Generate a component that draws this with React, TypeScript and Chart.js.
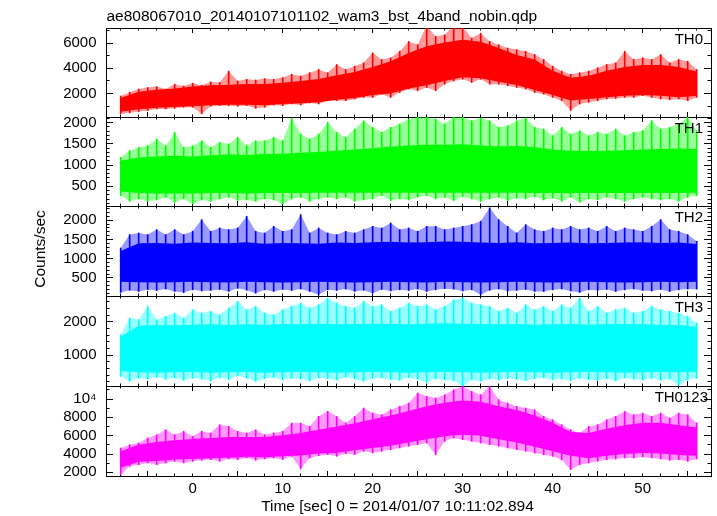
import React, { useEffect, useRef } from "react";
import { Chart, registerables } from "chart.js";

Chart.register(...registerables);

const WIDTH = 717;
const HEIGHT = 516;
const FONT = "'Liberation Sans', Arial, Helvetica, sans-serif";

const TITLE = "ae808067010_20140107101102_wam3_bst_4band_nobin.qdp";
const X_TITLE = "Time [sec] 0 = 2014/01/07 10:11:02.894";
const Y_TITLE = "Counts/sec";

// sample times (sec), one per second, and coarser times for the dense core band
const TIMES = [
  -8, -7, -6, -5, -4, -3, -2, -1, 0, 1, 2, 3, 4, 5, 6, 7, 8, 9, 10, 11, 12, 13, 14, 15, 16, 17, 18, 19, 20,
  21, 22, 23, 24, 25, 26, 27, 28, 29, 30, 31, 32, 33, 34, 35, 36, 37, 38, 39, 40, 41, 42, 43, 44, 45, 46,
  47, 48, 49, 50, 51, 52, 53, 54, 55, 56,
];
const TIMES_CORE = [
  -8, -6, -4, -2, 0, 2, 4, 6, 8, 10, 12, 14, 16, 18, 20, 22, 24, 26, 28, 30, 32, 34, 36, 38, 40, 42, 44,
  46, 48, 50, 52, 54, 56,
];

// TH0 : per-second spike extremes, and the dense core every 2 s
const TH0_HI = [
  1800, 2100, 2350, 2480, 2550, 2350, 2740, 2600, 2820, 2660,
  2920, 2870, 3780, 3000, 3130, 3080, 3180, 3130, 3260, 3520,
  3390, 3650, 3910, 3650, 4300, 3910, 4170, 4430, 5220, 4700,
  4830, 5350, 6130, 5870, 7400, 6520, 6650, 7400, 7300, 6390,
  6780, 6130, 5870, 5610, 5480, 5350, 5090, 4700, 4170, 3780,
  3520, 3650, 3780, 4040, 4300, 4430, 5350, 4700, 4830, 4700,
  5090, 4430, 4700, 4560, 3910,
];
const TH0_LO = [
  390, 470, 570, 650, 780, 780, 830, 910, 910, 390,
  990, 1040, 1040, 990, 1040, 830, 910, 1090, 1040, 1170,
  1090, 1250, 1170, 1430, 1430, 1430, 1560, 1690, 1690, 1950,
  1690, 2080, 2350, 2220, 2480, 2220, 2740, 3000, 3130, 2870,
  3130, 2740, 2740, 2610, 2480, 2350, 2080, 1950, 1690, 1430,
  650, 1170, 1300, 1430, 1560, 1610, 1690, 1690, 1820, 1690,
  1560, 1510, 1560, 1430, 1690,
];
const TH0_CORE_HI = [
  1650, 2150, 2300, 2400, 2550, 2650, 2700, 2750, 2750, 2850, 3000, 3150, 3450, 3700, 4100, 4550, 5200,
  5750, 6050, 6250, 6100, 5600, 5050, 4700, 3800, 3250, 3400, 3800, 4100, 4250, 4250, 4100, 3750,
];
const TH0_CORE_LO = [
  550, 750, 880, 930, 1000, 1080, 1120, 1120, 1080, 1160, 1230, 1310, 1500, 1640, 1880, 2000, 2400,
  2650, 3000, 3280, 3200, 2930, 2680, 2280, 1880, 1450, 1560, 1700, 1820, 1880, 1820, 1700, 1800,
];

// TH1
const TH1_HI = [
  1184, 1341, 1419, 1458, 1615, 1458, 1772, 1419, 1458, 1576,
  1419, 1537, 1498, 1655, 1458, 1576, 1576, 1655, 1576, 2110,
  1733, 1615, 1733, 2008, 1772, 1655, 1851, 2047, 1890, 1772,
  1890, 1969, 2086, 2126, 2126, 2086, 1969, 2126, 2126, 2047,
  2110, 2047, 1890, 1929, 2047, 2110, 1890, 1851, 1694, 1890,
  1733, 1812, 1694, 1772, 1733, 1851, 1694, 1772, 1812, 2047,
  1851, 1890, 1969, 2126, 1812,
];
const TH1_LO = [
  281, 147, 202, 147, 179, 242, 124, 202, 85, 179,
  147, 202, 242, 163, 179, 147, 202, 179, 85, 202,
  242, 147, 202, 242, 202, 242, 147, 179, 202, 281,
  163, 202, 179, 242, 281, 202, 242, 163, 257, 202,
  147, 202, 242, 163, 226, 202, 257, 179, 226, 147,
  242, 124, 202, 179, 242, 202, 147, 202, 242, 202,
  179, 202, 147, 242, 281,
];
const TH1_CORE_HI = [
  1100, 1180, 1200, 1220, 1200, 1230, 1250, 1240, 1260, 1270, 1290, 1310, 1340, 1370, 1400, 1430, 1460,
  1480, 1480, 1490, 1460, 1440, 1450, 1420, 1370, 1340, 1330, 1340, 1350, 1370, 1380, 1390, 1380,
];
const TH1_CORE_LO = [
  380, 340, 330, 330, 330, 340, 340, 330, 340, 340, 340, 350, 350, 350, 350, 350, 350,
  350, 350, 350, 350, 350, 350, 340, 340, 340, 340, 340, 340, 340, 340, 340, 350,
];

// TH2
const TH2_HI = [
  1278, 1626, 1669, 1626, 1756, 1626, 1756, 1626, 1713, 2017,
  1713, 1800, 1756, 1800, 2104, 1713, 1669, 1843, 1713, 1756,
  2148, 1669, 1800, 1669, 1626, 1713, 1669, 1756, 1843, 1800,
  1930, 1756, 1800, 1713, 1843, 1843, 1756, 1800, 1843, 1887,
  1974, 2322, 2017, 1843, 1669, 1887, 1756, 1713, 1800, 1756,
  1843, 1756, 1800, 1713, 1843, 1713, 1800, 1756, 1713, 1843,
  2017, 1756, 1713, 1626, 1452,
];
const TH2_LO = [
  121, 180, 150, 200, 170, 210, 150, 121, 190, 160,
  173, 200, 150, 230, 180, 103, 190, 150, 200, 173,
  210, 150, 60, 190, 173, 210, 150, 180, 103, 200,
  160, 190, 173, 210, 147, 190, 220, 208, 160, 190,
  60, 180, 210, 160, 173, 200, 150, 147, 190, 210,
  160, 121, 190, 173, 200, 147, 190, 210, 173, 160,
  200, 147, 190, 210, 208,
];
const TH2_CORE_HI = [
  1200, 1400, 1410, 1390, 1420, 1410, 1400, 1430, 1390, 1410, 1400, 1390, 1420, 1410, 1430, 1440, 1420,
  1430, 1450, 1440, 1420, 1410, 1430, 1400, 1410, 1420, 1400, 1410, 1420, 1430, 1410, 1420, 1380,
];
const TH2_CORE_LO = [
  400, 390, 380, 390, 400, 390, 380, 400, 390, 380, 390, 400, 390, 380, 390, 400, 390,
  380, 400, 390, 380, 390, 400, 390, 380, 390, 400, 390, 380, 390, 400, 390, 400,
];

// TH3
const TH3_HI = [
  1610, 2110, 2060, 2460, 2060, 2160, 2260, 2110, 2360, 2260,
  2310, 2210, 2410, 2610, 2360, 2460, 2260, 2210, 2360, 2460,
  2560, 2410, 2510, 2700, 2560, 2460, 2410, 2610, 2460, 2510,
  2310, 2410, 2560, 2460, 2510, 2360, 2460, 2660, 2710, 2560,
  2510, 2460, 2310, 2410, 2260, 2510, 2360, 2460, 2310, 2510,
  2410, 2710, 2310, 2460, 2260, 2360, 2410, 2260, 2310, 2460,
  2360, 2310, 2260, 2160, 1960,
];
const TH3_LO = [
  360, 210, 300, 280, 330, 270, 310, 240, 300, 280,
  220, 320, 260, 380, 300, 210, 290, 320, 260, 300,
  280, 220, 310, 290, 250, 330, 280, 210, 300, 310,
  260, 240, 320, 270, 180, 290, 250, 230, 60, 260,
  210, 280, 250, 300, 270, 230, 290, 310, 260, 280,
  230, 300, 260, 240, 290, 220, 310, 270, 250, 300,
  240, 280, 90, 260, 300,
];
const TH3_CORE_HI = [
  1550, 1880, 1900, 1890, 1910, 1920, 1900, 1920, 1910, 1930, 1920, 1940, 1920, 1930, 1940, 1930, 1920,
  1940, 1950, 1940, 1930, 1920, 1930, 1910, 1920, 1930, 1910, 1920, 1930, 1920, 1910, 1900, 1850,
];
const TH3_CORE_LO = [
  520, 480, 470, 480, 490, 470, 480, 490, 470, 480, 490, 480, 470, 480, 490, 480, 470,
  480, 490, 480, 470, 480, 490, 480, 470, 480, 490, 480, 470, 480, 490, 480, 500,
];

// TH0123
const TH0123_HI = [
  4655, 5018, 5200, 5746, 6109, 6655, 6109, 6473, 5927, 6473,
  6291, 7200, 7018, 6473, 6291, 6655, 6109, 6291, 6473, 7382,
  7382, 7018, 8109, 8655, 8109, 7382, 8109, 9018, 8473, 8291,
  8836, 9200, 9564, 10654, 10291, 10109, 10473, 11018, 11382, 10836,
  10473, 11382, 9927, 9564, 9200, 9018, 8836, 8109, 7745, 7200,
  6655, 6291, 7018, 7200, 7745, 8109, 8655, 8291, 8473, 8109,
  8473, 7927, 8473, 8291, 7382,
];
const TH0123_LO = [
  1746, 2655, 2837, 3019, 2837, 3019, 3200, 3019, 3200, 3310,
  3382, 3200, 3455, 3382, 3564, 3310, 3455, 3564, 3382, 3746,
  2364, 3564, 3819, 3928, 3746, 4037, 3928, 4291, 4110, 4291,
  4473, 4655, 4837, 5019, 5200, 3928, 5382, 5746, 5564, 5382,
  5200, 5019, 4837, 4655, 4473, 4291, 4110, 3928, 3746, 3382,
  2291, 2837, 3019, 3200, 3382, 3455, 3564, 3564, 3673, 3564,
  3455, 3310, 3382, 3200, 3455,
];
const TH0123_CORE_HI = [
  4300, 5000, 5300, 5500, 5650, 5750, 5850, 5850, 5850, 6050, 6300, 6650, 7000, 7350, 7800, 8200, 8700,
  9200, 9600, 9850, 9700, 9200, 8800, 8200, 7400, 6400, 6300, 6750, 7150, 7400, 7400, 7150, 6900,
];
const TH0123_CORE_LO = [
  2500, 3150, 3250, 3400, 3450, 3550, 3600, 3700, 3650, 3750, 3850, 4050, 4150, 4400, 4650, 4900, 5250,
  5600, 5950, 6100, 6000, 5600, 5250, 4800, 4300, 3800, 3550, 3800, 4000, 4100, 4050, 3900, 3800,
];

// tick labels
const X_MAJOR_TICKS = [0, 10, 20, 30, 40, 50];
const TH0_TICKS = [2000, 4000, 6000];
const TH1_TICKS = [500, 1000, 1500, 2000];
const TH2_TICKS = [500, 1000, 1500, 2000];
const TH3_TICKS = [1000, 2000];
const TH0123_TICKS = [2000, 4000, 6000, 8000, 10000];

// layout
const X_MIN = -9.63;
const X_MAX = 57.59;
const X_MINOR_STEP = 2;
const PLOT_LEFT = 106;
const PLOT_RIGHT = 711;
const PANEL_EDGES = [28, 117, 206, 296, 386, 476];
const X_LABEL_BAND = 30;

type Spec = {
  name: string;
  color: string;
  fuzz: string;
  hi: number[];
  lo: number[];
  coreHi: number[];
  coreLo: number[];
  yMin: number;
  yMax: number;
  yMajor: number[];
  yMinorStep: number;
  labelRight: number;
};

const PANELS: Spec[] = [
  { name: "TH0", color: "#ff0000", fuzz: "rgba(255,0,0,0.4)", hi: TH0_HI, lo: TH0_LO, coreHi: TH0_CORE_HI, coreLo: TH0_CORE_LO, yMin: 140, yMax: 7190, yMajor: TH0_TICKS, yMinorStep: 1000, labelRight: 703 },
  { name: "TH1", color: "#00ff00", fuzz: "rgba(0,255,0,0.4)", hi: TH1_HI, lo: TH1_LO, coreHi: TH1_CORE_HI, coreLo: TH1_CORE_LO, yMin: 36, yMax: 2134, yMajor: TH1_TICKS, yMinorStep: 100, labelRight: 703 },
  { name: "TH2", color: "#0000ff", fuzz: "rgba(0,0,255,0.4)", hi: TH2_HI, lo: TH2_LO, coreHi: TH2_CORE_HI, coreLo: TH2_CORE_LO, yMin: 30, yMax: 2370, yMajor: TH2_TICKS, yMinorStep: 100, labelRight: 703 },
  { name: "TH3", color: "#00ffff", fuzz: "rgba(0,255,255,0.4)", hi: TH3_HI, lo: TH3_LO, coreHi: TH3_CORE_HI, coreLo: TH3_CORE_LO, yMin: 70, yMax: 2770, yMajor: TH3_TICKS, yMinorStep: 200, labelRight: 703 },
  { name: "TH0123", color: "#ff00ff", fuzz: "rgba(255,0,255,0.4)", hi: TH0123_HI, lo: TH0123_LO, coreHi: TH0123_CORE_HI, coreLo: TH0123_CORE_LO, yMin: 1600, yMax: 11420, yMajor: TH0123_TICKS, yMinorStep: 1000, labelRight: 708 },
];

function stepTicks(min: number, max: number, step: number) {
  const out: { value: number }[] = [];
  for (let v = Math.ceil(min / step) * step; v <= max; v += step) out.push({ value: v });
  return out;
}

function PanelChart({ spec, index }: { spec: Spec; index: number }) {
  const ref = useRef<HTMLCanvasElement | null>(null);
  useEffect(() => {
    if (!ref.current) return;
    const isLast = index === PANELS.length - 1;
    const top = PANEL_EDGES[index];
    const bottom = PANEL_EDGES[index + 1];
    const spikes = TIMES.map((t, i) => ({ x: t, y: [spec.lo[i], spec.hi[i]] }));
    const envLo = TIMES.map((t, i) => ({ x: t, y: spec.lo[i] }));
    const envHi = TIMES.map((t, i) => ({ x: t, y: spec.hi[i] }));
    const coreLo = TIMES_CORE.map((t, i) => ({ x: t, y: spec.coreLo[i] }));
    const coreHi = TIMES_CORE.map((t, i) => ({ x: t, y: spec.coreHi[i] }));
    const tickFont = { family: FONT, size: 15 };
    const label = (v: any) => (Number(v) === 10000 ? "10\u2074" : String(v));

    const xAxis = (position: string, len: number, major: boolean, border: boolean, labels: boolean) => ({
      type: "linear",
      position,
      min: X_MIN,
      max: X_MAX,
      bounds: "data",
      offset: false,
      weight: labels ? 10 : 0,
      afterBuildTicks: (s: any) => {
        s.ticks = major ? X_MAJOR_TICKS.map((v) => ({ value: v })) : stepTicks(X_MIN, X_MAX, X_MINOR_STEP);
      },
      afterFit: (s: any) => { s.height = labels ? X_LABEL_BAND : 0; },
      grid: { display: true, drawOnChartArea: false, drawTicks: true, tickLength: -len, color: "#000", lineWidth: 1 },
      border: { display: border, color: "#000", width: 1 },
      ticks: { display: labels, autoSkip: false, maxRotation: 0, minRotation: 0, padding: 8.5, color: "#000", font: tickFont, callback: label },
    });
    const yAxis = (position: string, len: number, major: boolean, border: boolean, labels: boolean) => ({
      type: "linear",
      position,
      min: spec.yMin,
      max: spec.yMax,
      bounds: "data",
      weight: labels ? 10 : 0,
      afterBuildTicks: (s: any) => {
        s.ticks = major ? spec.yMajor.map((v) => ({ value: v })) : stepTicks(spec.yMin, spec.yMax, spec.yMinorStep);
      },
      afterFit: (s: any) => { s.width = labels ? PLOT_LEFT : 0; },
      grid: { display: true, drawOnChartArea: false, drawTicks: true, tickLength: -len, color: "#000", lineWidth: 1 },
      border: { display: border, color: "#000", width: 1 },
      ticks: { display: labels, autoSkip: false, padding: 16.5, color: "#000", font: tickFont, callback: label },
    });

    const chart = new Chart(ref.current, {
      type: "line",
      data: {
        datasets: [
          { type: "line", data: coreLo, borderWidth: 0, pointRadius: 0, fill: false, borderColor: spec.color, backgroundColor: spec.color, xAxisID: "x", yAxisID: "y" },
          { type: "line", data: coreHi, borderWidth: 0, pointRadius: 0, fill: "-1", borderColor: spec.color, backgroundColor: spec.color, xAxisID: "x", yAxisID: "y" },
          { type: "bar", data: spikes, barThickness: 1, borderWidth: 0, backgroundColor: spec.color, xAxisID: "x", yAxisID: "y" },
          { type: "line", data: envLo, borderWidth: 0, pointRadius: 0, fill: false, borderColor: spec.fuzz, backgroundColor: spec.fuzz, xAxisID: "x", yAxisID: "y" },
          { type: "line", data: envHi, borderWidth: 0, pointRadius: 0, fill: "-1", borderColor: spec.fuzz, backgroundColor: spec.fuzz, xAxisID: "x", yAxisID: "y" },
        ],
      } as any,
      options: {
        responsive: false,
        animation: false,
        devicePixelRatio: 1,
        events: [],
        layout: {
          padding: {
            left: 0,
            right: WIDTH - PLOT_RIGHT,
            top,
            bottom: HEIGHT - bottom - (isLast ? X_LABEL_BAND : 0),
          },
        },
        plugins: { legend: { display: false }, tooltip: { enabled: false }, title: { display: false } },
        scales: {
          x: xAxis("bottom", 5, true, true, isLast),
          xMinor: xAxis("bottom", 2.5, false, false, false),
          xTop: xAxis("top", 5, true, true, false),
          xTopMinor: xAxis("top", 2.5, false, false, false),
          y: yAxis("left", 7, true, true, true),
          yMinor: yAxis("left", 3.5, false, false, false),
          yRight: yAxis("right", 7, true, true, false),
          yRightMinor: yAxis("right", 3.5, false, false, false),
        },
      } as any,
    });
    return () => chart.destroy();
  }, [spec, index]);
  return (
    <canvas
      ref={ref}
      width={WIDTH}
      height={HEIGHT}
      style={{ position: "absolute", left: 0, top: 0, width: WIDTH, height: HEIGHT, pointerEvents: "none" }}
    />
  );
}

export default function App() {
  const fs = 15;
  return (
    <div style={{ position: "absolute", left: 0, top: 0, width: WIDTH, height: HEIGHT, background: "#fff", fontFamily: FONT, color: "#000", overflow: "hidden" }}>
      {PANELS.map((p, i) => (
        <PanelChart key={p.name} spec={p} index={i} />
      ))}
      <div style={{ position: "absolute", left: 106.5, top: 8.4, fontSize: 15.5, lineHeight: "15.5px", whiteSpace: "nowrap" }}>{TITLE}</div>
      {PANELS.map((p, i) => (
        <div
          key={p.name + "-label"}
          style={{ position: "absolute", right: WIDTH - p.labelRight, top: PANEL_EDGES[i] + 3.1, fontSize: fs, lineHeight: fs + "px", whiteSpace: "nowrap" }}
        >
          {p.name}
        </div>
      ))}
      <div style={{ position: "absolute", left: 397.5 - 200, width: 400, top: 498.4, fontSize: 15.5, lineHeight: "15.5px", textAlign: "center", whiteSpace: "nowrap" }}>
        {X_TITLE}
      </div>
      <div
        style={{ position: "absolute", left: 40 - 60, top: 249 - 9, width: 120, height: 18, lineHeight: "18px", fontSize: 15.5, textAlign: "center", whiteSpace: "nowrap", transform: "rotate(-90deg)" }}
      >
        {Y_TITLE}
      </div>
    </div>
  );
}
